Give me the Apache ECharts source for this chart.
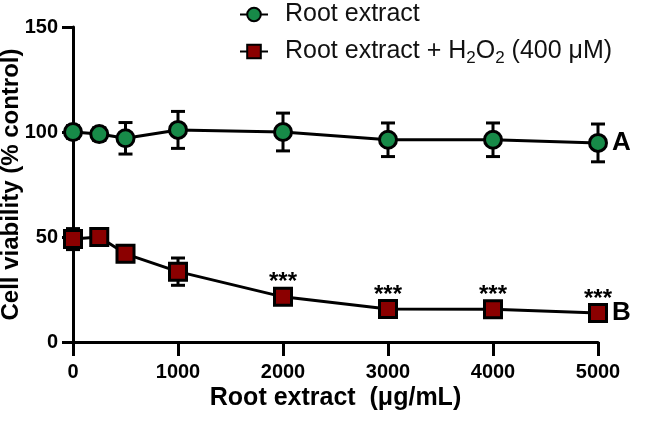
<!DOCTYPE html>
<html>
<head>
<meta charset="utf-8">
<script src="https://cdn.jsdelivr.net/npm/echarts@6/dist/echarts.min.js"></script>
<style>
html,body{margin:0;padding:0;background:#fff;}
#c{width:645px;height:421px;}
</style>
</head>
<body>
<div id="c"></div>
<script>
// ---- data ----
const xVals = [0, 250, 500, 1000, 2000, 3000, 4000, 5000];
const meanA = [100, 99, 97, 101, 100, 96.3, 96.3, 94.8];
const errA  = [3, 3, 7.5, 8.8, 9, 8, 8, 9];
const meanB = [49, 50, 42, 33.5, 21.5, 15.7, 15.6, 13.8];
const errB  = [5, 4, 3, 6.5, 2.5, 2, 2, 2];
const sigB  = ['', '', '', '', '***', '***', '***', '***'];
const nameA = 'Root extract';
const nameB = 'Root extract + H2O2 (400 μM)';
const endLabelA = 'A';
const endLabelB = 'B';
const xTicks = [0, 1000, 2000, 3000, 4000, 5000];
const yTicks = [0, 50, 100, 150];
const xTitle = 'Root extract  (μg/mL)';
const yTitle = 'Cell viability (% control)';

const FONT = '"Liberation Sans", Arial, Helvetica, sans-serif';
const GREEN = '#178a48';
const RED = '#8b0000';

function errData(means, errs) {
  return xVals.map((x, i) => [x, means[i], errs[i]]);
}
function errRender(params, api) {
  const x = api.value(0), m = api.value(1), e = api.value(2);
  const top = api.coord([x, m + e]);
  const bot = api.coord([x, m - e]);
  const hw = 7;
  const st = { stroke: '#000', lineWidth: 3 };
  return {
    type: 'group',
    children: [
      { type: 'line', shape: { x1: top[0], y1: top[1], x2: bot[0], y2: bot[1] }, style: st },
      { type: 'line', shape: { x1: top[0] - hw, y1: top[1], x2: top[0] + hw, y2: top[1] }, style: st },
      { type: 'line', shape: { x1: bot[0] - hw, y1: bot[1], x2: bot[0] + hw, y2: bot[1] }, style: st }
    ]
  };
}

const chart = echarts.init(document.getElementById('c'), null, { renderer: 'canvas' });
chart.setOption({
  animation: false,
  backgroundColor: '#fff',
  textStyle: { fontFamily: FONT },
  grid: { left: 73, right: 47, top: 27, bottom: 79, containLabel: false, outerBoundsMode: 'none' },
  legend: {
    orient: 'vertical',
    left: 234,
    top: -3,
    itemWidth: 28,
    itemHeight: 17,
    itemGap: 12,
    data: [nameA, nameB],
    formatter: function (n) {
      if (n === nameB) return '{f|Root extract + H}{s|2}{n|O}{s|2}{n| (400 μM)}';
      return '{f|' + n + '}';
    },
    textStyle: {
      color: '#111',
      fontFamily: FONT,
      fontSize: 25,
      rich: {
        f: { fontSize: 25, fontFamily: FONT, color: '#111', padding: [0, 0, 0, 12] },
        n: { fontSize: 25, fontFamily: FONT, color: '#111' },
        s: { fontSize: 17, fontFamily: FONT, color: '#111', padding: [13, 0, 0, 0], verticalAlign: 'bottom' }
      }
    }
  },
  xAxis: {
    type: 'value',
    min: xTicks[0],
    max: xTicks[xTicks.length - 1],
    interval: xTicks[1] - xTicks[0],
    name: xTitle,
    nameLocation: 'middle',
    nameGap: 44,
    nameMoveOverlap: false,
    nameTextStyle: { fontFamily: FONT, fontSize: 25, fontWeight: 'bold', color: '#000' },
    axisLine: { show: true, lineStyle: { color: '#000', width: 3 } },
    axisTick: { show: true, length: 14, lineStyle: { color: '#000', width: 3 } },
    axisLabel: { fontFamily: FONT, fontSize: 20, fontWeight: 'bold', color: '#000', margin: 20,
      formatter: function (v) { return String(v); } },
    splitLine: { show: false }
  },
  yAxis: {
    type: 'value',
    min: yTicks[0],
    max: yTicks[yTicks.length - 1],
    interval: yTicks[1] - yTicks[0],
    name: yTitle,
    nameLocation: 'middle',
    nameGap: 50,
    nameMoveOverlap: false,
    nameTextStyle: { fontFamily: FONT, fontSize: 24, fontWeight: 'bold', color: '#000' },
    axisLine: { show: true, lineStyle: { color: '#000', width: 3 } },
    axisTick: { show: true, length: 11, lineStyle: { color: '#000', width: 3 } },
    axisLabel: { fontFamily: FONT, fontSize: 20, fontWeight: 'bold', color: '#000', margin: 15,
      formatter: function (v) { return String(v); } },
    splitLine: { show: false }
  },
  series: [
    {
      type: 'custom',
      name: 'errA',
      renderItem: errRender,
      data: errData(meanA, errA),
      encode: { x: 0, y: 1 },
      clip: false,
      z: 1,
      silent: true
    },
    {
      type: 'custom',
      name: 'errB',
      renderItem: errRender,
      data: errData(meanB, errB),
      encode: { x: 0, y: 1 },
      clip: false,
      z: 1,
      silent: true
    },
    {
      type: 'line',
      name: nameA,
      data: xVals.map((x, i) => [x, meanA[i]]),
      symbol: 'circle',
      symbolSize: 17,
      showSymbol: true,
      clip: false,
      z: 3,
      lineStyle: { color: '#000', width: 3 },
      itemStyle: { color: GREEN, borderColor: '#000', borderWidth: 3 },
      endLabel: {
        show: true,
        formatter: endLabelA,
        distance: 14,
        fontFamily: FONT, fontSize: 26, fontWeight: 'bold', color: '#000'
      }
    },
    {
      type: 'line',
      name: nameB,
      data: xVals.map((x, i) => ({
        value: [x, meanB[i]],
        label: { show: sigB[i] !== '', formatter: sigB[i] }
      })),
      symbol: 'rect',
      symbolSize: 17,
      showSymbol: true,
      clip: false,
      z: 3,
      lineStyle: { color: '#000', width: 3 },
      itemStyle: { color: RED, borderColor: '#000', borderWidth: 3 },
      label: {
        position: 'top',
        distance: -8,
        fontFamily: FONT, fontSize: 24, fontWeight: 'bold', color: '#000'
      },
      endLabel: {
        show: true,
        formatter: endLabelB,
        distance: 14,
        fontFamily: FONT, fontSize: 26, fontWeight: 'bold', color: '#000'
      }
    }
  ]
});
</script>
</body>
</html>
